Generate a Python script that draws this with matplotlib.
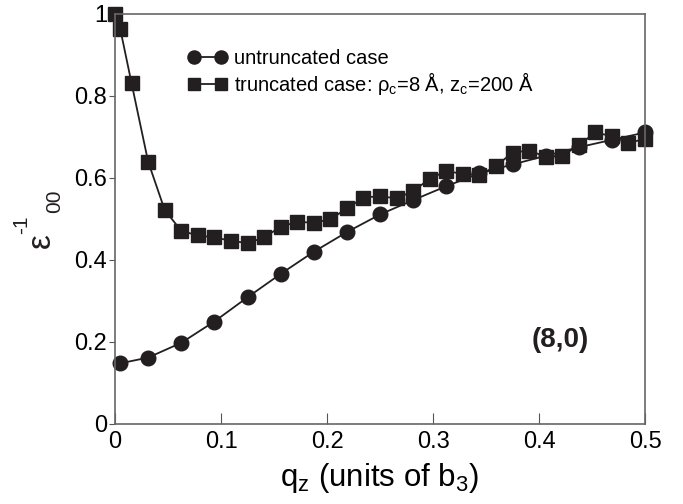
import numpy as np
import matplotlib.pyplot as plt

plt.rcParams['font.family'] = ['Liberation Sans', 'DejaVu Sans']
plt.rcParams['mathtext.default'] = 'regular'

# untruncated case
qz_u = [0.005] + [k / 32 for k in range(1, 17)]
eps_u = [0.148, 0.162, 0.198, 0.250, 0.309, 0.366, 0.420, 0.468, 0.511,
         0.546, 0.580, 0.611, 0.633, 0.654, 0.675, 0.693, 0.711]

# truncated case
qz_t = [0.0, 0.005] + [k / 64 for k in range(1, 33)]
eps_t = [1.0, 0.963, 0.831, 0.640, 0.522, 0.471, 0.460, 0.455, 0.447, 0.441,
         0.455, 0.481, 0.493, 0.491, 0.499, 0.526, 0.552, 0.556, 0.550, 0.568,
         0.598, 0.617, 0.610, 0.607, 0.629, 0.662, 0.667, 0.652, 0.654, 0.680,
         0.711, 0.702, 0.686, 0.695]

c = '#231f20'
W, H = 683, 504
fig = plt.figure(figsize=(W / 100, H / 100), dpi=100)
ax = fig.add_axes([115 / W, 1 - 424 / H, 530 / W, 410 / H])

ax.plot(qz_u, eps_u, '-o', color=c, lw=1.3, ms=10.5, clip_on=False,
        label='untruncated case')
ax.plot(qz_t, eps_t, '-s', color=c, lw=1.3, ms=9.5, clip_on=False,
        label=r'truncated case: $\rho_c$=8 Å, z$_c$=200 Å')

ax.set_xlim(0, 0.5)
ax.set_ylim(0, 1)
ax.set_xticks([0, 0.1, 0.2, 0.3, 0.4, 0.5])
ax.set_xticklabels(['0', '0.1', '0.2', '0.3', '0.4', '0.5'])
ax.set_yticks([0, 0.2, 0.4, 0.6, 0.8, 1])
ax.set_yticklabels(['0', '0.2', '0.4', '0.6', '0.8', '1'])
ax.tick_params(axis='x', direction='in', length=8, labelsize=17, pad=5, color='#555555')
ax.tick_params(axis='y', direction='out', length=4, labelsize=17, pad=1.5, color='#555555')
for s in ax.spines.values():
    s.set_color('#666666')
    s.set_linewidth(1.2)

ax.set_xlabel(r'q$_z$ (units of b$_3$)', fontsize=22.5, labelpad=6)

# y label: epsilon with superscript -1 and subscript 00 (rotated)
fig.text(41 / W, 1 - 241 / H, '\u03b5', rotation=90, fontsize=24,
         ha='center', va='center', color=c)
fig.text(22 / W, 1 - 225 / H, '-1', rotation=90, fontsize=15,
         ha='center', va='center', color=c)
fig.text(55 / W, 1 - 201 / H, '00', rotation=90, fontsize=15,
         ha='center', va='center', color=c)

ax.legend(loc='upper left', bbox_to_anchor=(0.123, 0.935), frameon=False,
          numpoints=2, handlelength=1.95, handletextpad=0.3, labelspacing=0.12,
          fontsize=14.5, markerscale=0.9, borderaxespad=0)

ax.text(0.84, 0.205, '(8,0)', transform=ax.transAxes, fontsize=20,
        fontweight='bold', ha='center', va='center', color=c)

fig.savefig('out.png', dpi=100)
